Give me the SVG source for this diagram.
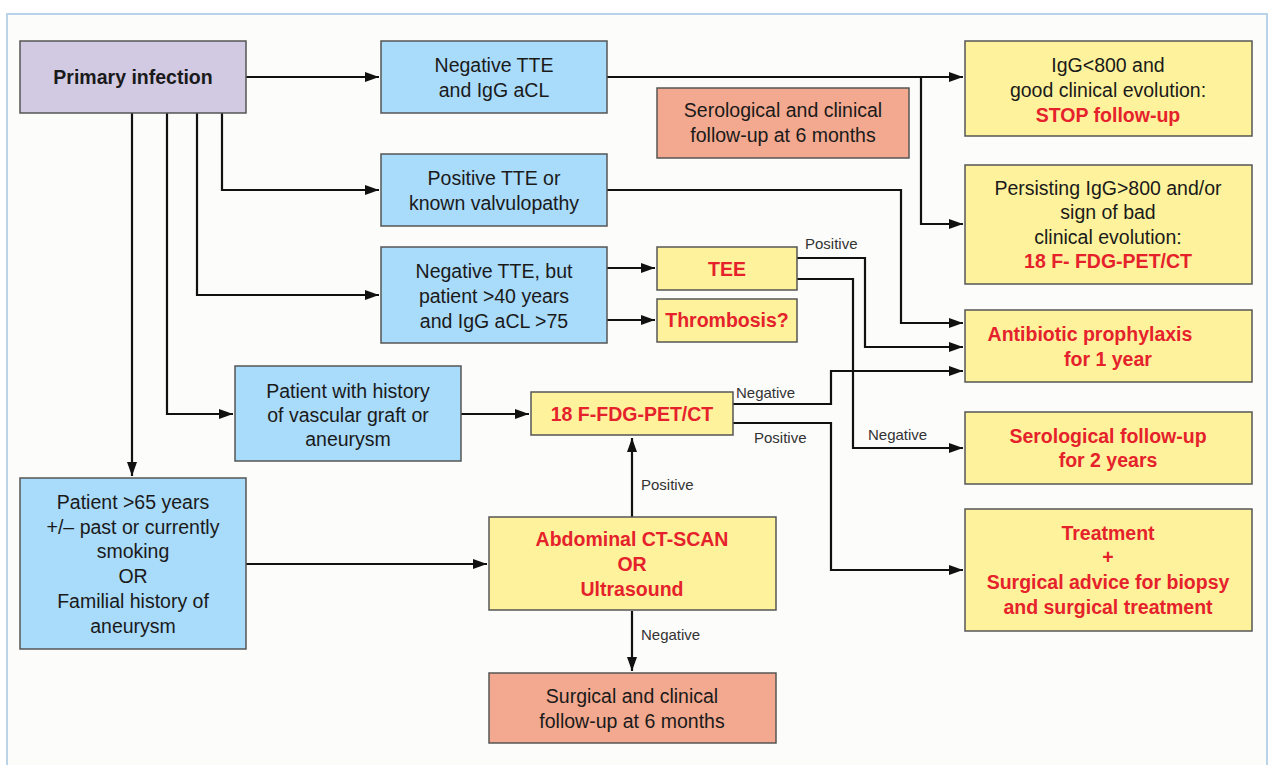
<svg xmlns="http://www.w3.org/2000/svg" width="1271" height="765" viewBox="0 0 1271 765">
<defs>
<marker id="ah" viewBox="0 0 14 10" refX="14" refY="5" markerWidth="14" markerHeight="10" markerUnits="userSpaceOnUse" orient="auto">
<path d="M0,0 L14,5 L0,10 Z" fill="#111"/>
</marker>
<style>
.box{stroke:#555;stroke-width:1.5}
.blue{fill:#a9dbfb}
.yel{fill:#fef39c}
.sal{fill:#f2a98f}
.pur{fill:#d2c9e3}
text{font-family:"Liberation Sans",Arial,sans-serif;font-size:19.5px;fill:#1a1a1a;text-anchor:middle}
.red{fill:#e5222b;font-weight:bold}
.b{font-weight:bold}
.lbl{font-size:15px;fill:#333;text-anchor:start}
.c{fill:none;stroke:#111;stroke-width:2.2}
</style>
</defs>
<rect x="0" y="0" width="1271" height="765" fill="#ffffff"/>
<rect x="7" y="14" width="1260" height="770" fill="#fcfcfb" stroke="#b9d3e8" stroke-width="2"/>

<g id="connectors">
<path class="c" d="M246,77 H379" marker-end="url(#ah)"/>
<path class="c" d="M607,77 H963" marker-end="url(#ah)"/>
<path class="c" d="M921,77 V224 H963" marker-end="url(#ah)"/>
<path class="c" d="M222,113 V190 H379" marker-end="url(#ah)"/>
<path class="c" d="M197,113 V295 H379" marker-end="url(#ah)"/>
<path class="c" d="M167,113 V414 H233" marker-end="url(#ah)"/>
<path class="c" d="M132,113 V476" marker-end="url(#ah)"/>
<path class="c" d="M607,190 H901 V323 H963" marker-end="url(#ah)"/>
<path class="c" d="M607,268 H655" marker-end="url(#ah)"/>
<path class="c" d="M607,320 H655" marker-end="url(#ah)"/>
<path class="c" d="M797,258 H865 V347 H963" marker-end="url(#ah)"/>
<path class="c" d="M797,279 H853 V448 H963" marker-end="url(#ah)"/>
<path class="c" d="M733,404 H831 V371 H963" marker-end="url(#ah)"/>
<path class="c" d="M733,423 H831 V570 H963" marker-end="url(#ah)"/>
<path class="c" d="M461,414 H529" marker-end="url(#ah)"/>
<path class="c" d="M246,564 H487" marker-end="url(#ah)"/>
<path class="c" d="M632,517 V438" marker-end="url(#ah)"/>
<path class="c" d="M632,611 V671" marker-end="url(#ah)"/>
<text class="lbl" x="805" y="249">Positive</text>
<text class="lbl" x="868" y="440">Negative</text>
<text class="lbl" x="736" y="398">Negative</text>
<text class="lbl" x="754" y="443">Positive</text>
<text class="lbl" x="641" y="490">Positive</text>
<text class="lbl" x="641" y="640">Negative</text>
</g>

<g id="n-primary"><rect class="box pur" x="20" y="41" width="226" height="72"/>
<text class="b" x="133" y="84">Primary infection</text></g>

<g id="n-negtte"><rect class="box blue" x="381" y="41" width="226" height="72"/>
<text x="494" y="72">Negative TTE</text><text x="494" y="97">and IgG aCL</text></g>

<g id="n-serofu6"><rect class="box sal" x="657" y="88" width="252" height="70"/>
<text x="783" y="117">Serological and clinical</text><text x="783" y="142">follow-up at 6 months</text></g>

<g id="n-igglow"><rect class="box yel" x="965" y="41" width="287" height="95"/>
<text x="1108" y="72">IgG&lt;800 and</text><text x="1108" y="97">good clinical evolution:</text><text class="red" x="1108" y="122">STOP follow-up</text></g>

<g id="n-postte"><rect class="box blue" x="381" y="154" width="226" height="72"/>
<text x="494" y="185">Positive TTE or</text><text x="494" y="210">known valvulopathy</text></g>

<g id="n-igghigh"><rect class="box yel" x="965" y="165" width="287" height="119"/>
<text x="1108" y="195">Persisting IgG&gt;800 and/or</text><text x="1108" y="219">sign of bad</text><text x="1108" y="244">clinical evolution:</text><text class="red" x="1108" y="268">18 F- FDG-PET/CT</text></g>

<g id="n-negtte40"><rect class="box blue" x="381" y="247" width="226" height="96"/>
<text x="494" y="278">Negative TTE, but</text><text x="494" y="303">patient &gt;40 years</text><text x="494" y="328">and IgG aCL &gt;75</text></g>

<g id="n-tee"><rect class="box yel" x="657" y="247" width="140" height="43"/>
<text class="red" x="727" y="276">TEE</text></g>

<g id="n-thromb"><rect class="box yel" x="657" y="299" width="140" height="43"/>
<text class="red" x="727" y="327">Thrombosis?</text></g>

<g id="n-antibio"><rect class="box yel" x="965" y="310" width="287" height="72"/>
<text class="red" x="1090" y="341">Antibiotic prophylaxis</text><text class="red" x="1108" y="366">for 1 year</text></g>

<g id="n-graft"><rect class="box blue" x="235" y="366" width="226" height="95"/>
<text x="348" y="398">Patient with history</text><text x="348" y="422">of vascular graft or</text><text x="348" y="446">aneurysm</text></g>

<g id="n-pet"><rect class="box yel" x="531" y="392" width="202" height="43"/>
<text class="red" x="632" y="421">18 F-FDG-PET/CT</text></g>

<g id="n-sero2"><rect class="box yel" x="965" y="412" width="287" height="72"/>
<text class="red" x="1108" y="443">Serological follow-up</text><text class="red" x="1108" y="467">for 2 years</text></g>

<g id="n-p65"><rect class="box blue" x="20" y="478" width="226" height="171"/>
<text x="133" y="509">Patient &gt;65 years</text><text x="133" y="534">+/– past or currently</text><text x="133" y="558">smoking</text><text x="133" y="583">OR</text><text x="133" y="608">Familial history of</text><text x="133" y="633">aneurysm</text></g>

<g id="n-abdo"><rect class="box yel" x="489" y="517" width="287" height="93"/>
<text class="red" x="632" y="546">Abdominal CT-SCAN</text><text class="red" x="632" y="571">OR</text><text class="red" x="632" y="596">Ultrasound</text></g>

<g id="n-treat"><rect class="box yel" x="965" y="509" width="287" height="122"/>
<text class="red" x="1108" y="540">Treatment</text><text class="red" x="1108" y="564">+</text><text class="red" x="1108" y="589">Surgical advice for biopsy</text><text class="red" x="1108" y="614">and surgical treatment</text></g>

<g id="n-surgfu"><rect class="box sal" x="489" y="673" width="287" height="70"/>
<text x="632" y="703">Surgical and clinical</text><text x="632" y="728">follow-up at 6 months</text></g>
</svg>
